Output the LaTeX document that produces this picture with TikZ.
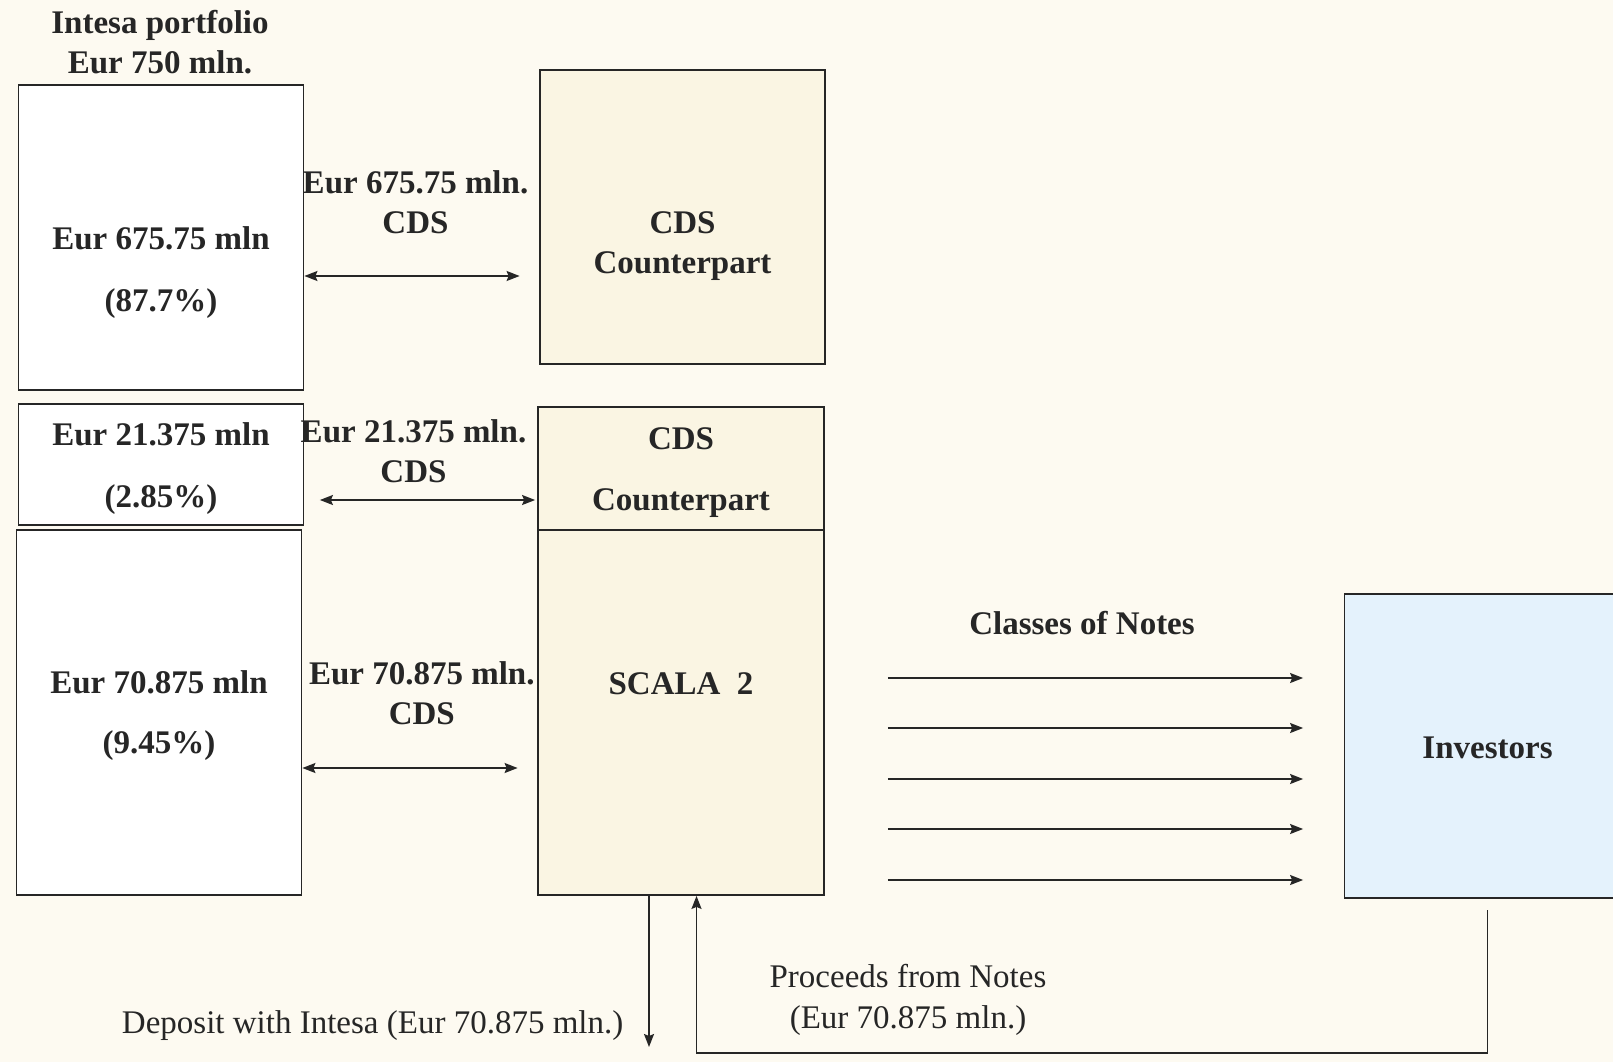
\documentclass[tikz,border=0pt]{standalone}
\usepackage{fontspec}
\setmainfont{Liberation Serif}
\usetikzlibrary{arrows.meta}
\definecolor{PaperCream}{RGB}{253,250,241}
\definecolor{CptyBeige}{RGB}{250,245,227}
\definecolor{InvBlue}{RGB}{228,242,252}
\definecolor{InkGrey}{RGB}{38,38,38}
\tikzset{
  pbox/.style={draw=InkGrey, line width=1.8pt, fill=white, inner sep=0pt},
  cptybox/.style={pbox, fill=CptyBeige},
  invbox/.style={pbox, fill=InvBlue, font=\fontsize{33}{40}\selectfont\bfseries, text=InkGrey},
  btxt/.style={font=\fontsize{33}{40}\selectfont\bfseries, text=InkGrey, align=center, inner sep=0pt},
  rtxt/.style={font=\fontsize{33}{41}\selectfont, text=InkGrey, align=center, inner sep=0pt},
  cdsarr/.style={{Stealth[length=13pt,width=10pt,inset=2pt]}-{Stealth[length=13pt,width=10pt,inset=2pt]},
    line width=1.6pt, InkGrey},
  notearr/.style={-{Stealth[length=13pt,width=10pt,inset=2pt]}, line width=1.6pt, InkGrey},
}
\begin{document}
\begin{tikzpicture}[x=1pt, y=-1pt]
  \fill[PaperCream] (0,0) rectangle (1613,1062);
  \useasboundingbox (0,0) rectangle (1613,1062);

  % portfolio tranches
  \node[btxt] (title) at (160,42) {Intesa portfolio\\Eur 750 mln.};
  \node[pbox, minimum width=285pt, minimum height=305pt] (portA) at (161,237.5) {};
  \node[pbox, minimum width=285pt, minimum height=121pt] (portB) at (161,464.5) {};
  \node[pbox, minimum width=285pt, minimum height=365pt] (portC) at (159,712.5) {};
  \node[btxt] (portAtxt) at (161,272.5) {Eur 675.75 mln\\[22pt](87.7\%)};
  \node[btxt] (portBtxt) at (161,469) {Eur 21.375 mln\\[22pt](2.85\%)};
  \node[btxt] (portCtxt) at (159,716) {Eur 70.875 mln\\[20pt](9.45\%)};

  % counterparts and vehicle
  \node[cptybox, minimum width=285pt, minimum height=294pt] (cdsA) at (682.5,217) {};
  \node[btxt] (cdsAtxt) at (682.5,246) {CDS\\Counterpart};
  \node[cptybox, minimum width=286pt, minimum height=123pt] (cdsB) at (681,468.5) {};
  \node[btxt] (cdsBtxt) at (681,472.5) {CDS\\[21pt]Counterpart};
  \node[cptybox, minimum width=286pt, minimum height=365pt] (scala) at (681,712.5) {};
  \node[btxt] (scalatxt) at (681,684) {SCALA\ \ 2};

  \node[invbox, minimum width=286pt, minimum height=304.5pt] (inv) at (1487.5,746) {};
  \node[btxt] (invtxt) at (1487.5,748) {Investors};

  % CDS legs
  \node[btxt] (legA) at (415.5,202) {Eur 675.75 mln.\\CDS};
  \node[btxt] (legB) at (413.5,451) {Eur 21.375 mln.\\CDS};
  \node[btxt] (legC) at (421.8,693) {Eur 70.875 mln.\\CDS};
  \path ([yshift=-38.5pt]portA.east) coordinate (r1);
  \path ([yshift=-35.5pt]portB.east) coordinate (r2);
  \path ([yshift=-55.5pt]portC.east) coordinate (r3);
  \draw[cdsarr, shorten >=19.5pt] (r1) -- (r1 -| cdsA.west);
  \draw[cdsarr, shorten <=15.5pt, shorten >=2pt] (r2) -- (r2 -| cdsB.west);
  \draw[cdsarr, shorten >=19.5pt] (r3) -- (r3 -| scala.west);

  % notes
  \node[btxt] (classes) at (1082,623) {Classes of Notes};
  \foreach \i/\d in {1/34.5, 2/-15.5, 3/-66.5, 4/-116.5, 5/-167.5}{
    \path ([yshift=\d pt]scala.east) coordinate (n\i);
    \draw[notearr, shorten <=63pt, shorten >=40.5pt] (n\i) -- (n\i -| inv.west);
  }

  % cash flows
  \coordinate (dep) at (649,1047);
  \coordinate (ret) at (696.5,1053);
  \draw[notearr] ([xshift=-32pt]scala.south) -- (dep);
  \draw[notearr, shorten <=11pt] (inv.south) |- (ret) -- ([xshift=15.5pt]scala.south);
  \node[rtxt, anchor=east] (deplab) at (623.5,1025.5) {Deposit with Intesa (Eur 70.875 mln.)};
  \node[rtxt] (proclab) at (908,1000) {Proceeds from Notes\\(Eur 70.875 mln.)};
\end{tikzpicture}
\end{document}
